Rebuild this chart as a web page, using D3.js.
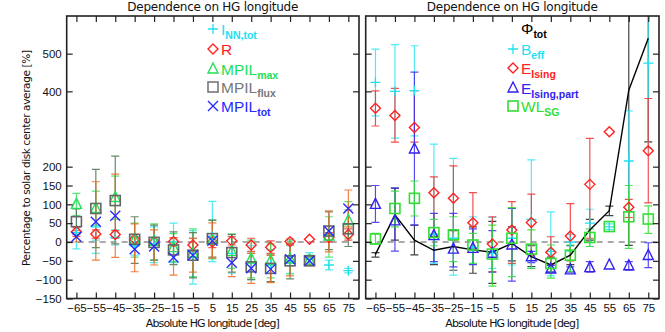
<!DOCTYPE html>
<html>
<head>
<meta charset="utf-8">
<script src="https://cdn.jsdelivr.net/npm/d3@7"></script>
<style>
  body { margin: 0; background: #fff; }
  svg { display: block; font-family: "DejaVu Sans", sans-serif; }
</style>
</head>
<body>
<svg width="665" height="332"></svg>
<script>
// categories: absolute HG longitude bins
let lons = [-65, -55, -45, -35, -25, -15, -5, 5, 15, 25, 35, 45, 55, 65, 75];
let yTicks = [-150, -100, -50, 0, 50, 100, 150, 200, 400, 500];

// left panel: value, lower, upper (null = no bar)
let inn = [25, 40, 12, -10, -5, 0, -40, 15, -30, -55, -60, -50, -45, -61, -76];
let innLo = [-18, -30, -8, -35, -55, -55, -112, -52, -83, -100, -105, -83, -60, -74, -82];
let innHi = [68, 5, 32, 15, 40, 50, 30, 108, 15, -10, -20, -10, -28, -48, -70];

let rVal = [27, 21, 20, 7, 1, 1, -8, 0, 3, -8, -14, 1, 7, 12, 20];
let rLo = [15, 10, 10, -5, -8, -10, -25, -15, -8, -25, -30, -8, null, 0, 5];
let rHi = [38, 32, 30, 20, 12, 12, 10, 15, 14, 10, 3, 8, null, 25, 35];

let maxVal = [100, 89, 118, 5, 2, -15, -30, 5, -25, -45, -50, -45, -48, 16, 57];
let maxLo = [71, 45, 60, -40, -48, -52, -92, -45, -70, -95, -95, -85, -60, -40, 10];
let maxHi = [129, 135, 175, 50, 48, 22, 35, 58, 21, 5, -5, 5, -35, 67, 107];

let fluxVal = [54, 89, 110, 7, -1, -21, -35, 9, -28, -66, -70, -50, -50, 29, 35];
let fluxLo = [20, -15, -5, -57, -48, -60, -95, -40, -80, -100, -105, -98, -62, -20, -12];
let fluxHi = [88, 193, 228, 67, 45, 27, 25, 58, 20, -30, -35, -5, -38, 80, 85];

let totVal = [14, 54, 70, -19, -12, -41, -35, 3, -55, -70, -72, -46, -50, 29, 89];
let totLo = [0, -48, -41, -79, -61, -88, -80, -43, -92, -110, -108, -90, -60, -26, 40];
let totHi = [30, 160, 180, 48, 32, 10, 10, 51, -15, -30, -35, -5, -40, 83, 138];

// right panel
let phiVal = [-33, 72, 5, -22, -12, -21, -27, -4, -39, -61, -35, 32, 83, 403, 541];
let phiLo = [-40, 5, -34, -60, -75, -83, -110, -50, -65, -80, -60, 5, 70, -9, 266];
let phiHi = [-28, 143, 45, 15, 30, 40, 55, 40, -10, -40, -10, 60, 95, 800, 800];

let beffVal = [424, 400, 402, 20, 10, -15, -30, 10, 60, -25, 0, 50, 40, 215, 475];
let beffLo = [335, 276, 282, -57, -88, -59, -70, -61, -70, -90, -25, -12, 33, 80, 250];
let beffHi = [512, 524, 521, 260, 222, 67, 65, 89, 218, 80, 20, 87, 48, 348, 800];

let eisVal = [355, 336, 304, 131, 116, 51, -5, 32, 52, -27, 16, 153, 293, 92, 242];
let eisLo = [308, 265, 265, 13, 5, -17, -79, -57, -35, -61, -50, 10, null, 65, 104];
let eisHi = [401, 408, 402, 173, 202, 131, 67, 107, 127, 14, 102, 275, null, 113, 381];

let partVal = [100, 56, 247, 17, -19, -17, -30, -8, -39, -72, -74, -68, -61, -63, -36];
let partLo = [52, -24, 45, -52, -66, -60, -80, -104, -55, -80, -80, -80, null, -75, -68];
let partHi = [150, 143, 451, 76, 76, 35, 30, 89, -25, -62, -66, -52, null, -52, -2];

let wlVal = [8, 89, 116, 25, 19, -8, -32, 10, -19, -57, -35, 12, 41, 67, 61];
let wlLo = [-5, 40, 69, -10, -52, -57, -117, -92, -70, -96, -79, -12, null, -17, 23];
let wlHi = [23, 135, 162, 60, 67, 23, 45, 91, 32, -8, -8, 35, null, 150, 96];

let svg = d3.select('svg');
let y = d3.scaleLinear().domain([-150, 600]).range([298.5, 16]);

let series = (val, lo, hi) => lons.map((c, i) => ({c: c, v: val[i], lo: lo[i], hi: hi[i]}));

let drawMarker = (g, type, x0, y0, color) => {
    let s = 5;
    if (type === 'plus') {
        g.append('path').attr('d', `M${x0 - s},${y0}H${x0 + s}M${x0},${y0 - s}V${y0 + s}`)
         .attr('stroke', color).attr('stroke-width', 1.3).attr('fill', 'none');
    } else if (type === 'x') {
        g.append('path').attr('d', `M${x0 - s},${y0 - s}L${x0 + s},${y0 + s}M${x0 - s},${y0 + s}L${x0 + s},${y0 - s}`)
         .attr('stroke', color).attr('stroke-width', 1.4).attr('fill', 'none');
    } else if (type === 'diamond') {
        g.append('path').attr('d', `M${x0},${y0 - s}L${x0 + s},${y0}L${x0},${y0 + s}L${x0 - s},${y0}Z`)
         .attr('stroke', color).attr('stroke-width', 1.4).attr('fill', 'none');
    } else if (type === 'triangle') {
        g.append('path').attr('d', `M${x0},${y0 - s - 1}L${x0 + s},${y0 + s - 1}L${x0 - s},${y0 + s - 1}Z`)
         .attr('stroke', color).attr('stroke-width', 1.4).attr('fill', 'none');
    } else if (type === 'square') {
        g.append('rect').attr('x', x0 - s).attr('y', y0 - s).attr('width', 2 * s).attr('height', 2 * s)
         .attr('stroke', color).attr('stroke-width', 1.6).attr('fill', 'none');
    }
}

let drawPanel = (id, x0, x1, showYLabels, list, line) => {
    let x = d3.scaleLinear().domain([-70, 80.5]).range([x0, x1]);
    let g = svg.append('g').attr('id', id);

    g.append('clipPath').attr('id', id + '-clip')
     .append('rect').attr('x', x0).attr('y', y(600)).attr('width', x1 - x0).attr('height', y(-150) - y(600));

    let plot = g.append('g').attr('clip-path', `url(#${id}-clip)`);

    // zero line
    plot.append('line')
        .attr('x1', x0).attr('x2', x1).attr('y1', y(0)).attr('y2', y(0))
        .attr('stroke', '#555').attr('stroke-dasharray', '6,5').attr('stroke-width', 1);

    // error bars
    list.forEach(s => {
        s.data.filter(d => d.lo !== null).forEach(d => {
            let px = x(d.c);
            plot.append('path')
                .attr('d', `M${px},${y(d.lo)}V${y(d.hi)}M${px - 4},${y(d.lo)}H${px + 4}M${px - 4},${y(d.hi)}H${px + 4}`)
                .attr('stroke', s.errColor).attr('stroke-width', 1.2).attr('fill', 'none')
                .attr('opacity', 0.85);
        });
    });

    if (line) {
        plot.append('path').datum(line.data)
            .attr('d', d3.line().x(d => x(d.c)).y(d => y(d.v)))
            .attr('stroke', '#000').attr('stroke-width', 1.4).attr('fill', 'none');
    }

    list.forEach(s => {
        if (!s.marker) return;
        s.data.forEach(d => drawMarker(plot, s.marker, x(d.c), y(d.v), s.color));
    });

    // axes, ticks pointing inward
    let fmt = d => d < 0 ? '\u2212' + Math.abs(d) : String(d);
    let xb = g.append('g').attr('transform', `translate(0,${y(-150)})`)
        .call(d3.axisBottom(x).tickValues(lons).tickSizeInner(-6).tickSizeOuter(0).tickFormat(fmt).tickPadding(5));
    let xt = g.append('g').attr('transform', `translate(0,${y(600)})`)
        .call(d3.axisTop(x).tickValues(lons).tickSizeInner(-6).tickSizeOuter(0).tickFormat(''));
    let yl = g.append('g').attr('transform', `translate(${x0},0)`)
        .call(d3.axisLeft(y).tickValues(yTicks).tickSizeInner(-6).tickSizeOuter(0)
        .tickFormat(showYLabels ? fmt : '').tickPadding(5));
    let yr = g.append('g').attr('transform', `translate(${x1},0)`)
        .call(d3.axisRight(y).tickValues(yTicks).tickSizeInner(-6).tickSizeOuter(0).tickFormat(''));
    [xb, xt, yl, yr].forEach(a => {
        a.select('.domain').remove();
        a.selectAll('line').attr('stroke', '#222').attr('stroke-width', 1.2);
        a.selectAll('text').attr('font-size', 11.5).attr('fill', '#111')
         .attr('font-family', '"Liberation Sans", sans-serif');
    });

    g.append('rect').attr('x', x0).attr('y', y(600)).attr('width', x1 - x0).attr('height', y(-150) - y(600))
     .attr('fill', 'none').attr('stroke', '#222').attr('stroke-width', 1.6);

    let cx = (x0 + x1) / 2;
    g.append('text').attr('x', cx).attr('y', 11).attr('text-anchor', 'middle')
     .attr('font-size', 12).attr('fill', '#111').attr('textLength', 171)
     .text('Dependence on HG longitude');
    g.append('text').attr('x', cx).attr('y', 327).attr('text-anchor', 'middle')
     .attr('font-size', 11).attr('fill', '#111').attr('textLength', 134)
     .text('Absolute HG longitude [deg]');
    return x;
}

let left = [
    {marker: 'plus', color: '#22e0f0', errColor: '#33e6f2', data: series(inn, innLo, innHi)},
    {marker: 'diamond', color: '#ff2222', errColor: '#f03a2a', data: series(rVal, rLo, rHi)},
    {marker: 'triangle', color: '#22e055', errColor: '#3ce060', data: series(maxVal, maxLo, maxHi)},
    {marker: 'square', color: '#666', errColor: '#4f7350', data: series(fluxVal, fluxLo, fluxHi)},
    {marker: 'x', color: '#2a2aff', errColor: '#f06a20', data: series(totVal, totLo, totHi)}
];
drawPanel('left', 66.7, 359, true, left, null);

let phi = {data: series(phiVal, phiLo, phiHi)};
let right = [
    {marker: null, color: '#000', errColor: '#222', data: phi.data},
    {marker: 'plus', color: '#22e0f0', errColor: '#33e6f2', data: series(beffVal, beffLo, beffHi)},
    {marker: 'diamond', color: '#ff2222', errColor: '#f03030', data: series(eisVal, eisLo, eisHi)},
    {marker: 'triangle', color: '#3322ee', errColor: '#3a2aee', data: series(partVal, partLo, partHi)},
    {marker: 'square', color: '#33dd33', errColor: '#33dd33', data: series(wlVal, wlLo, wlHi)}
];
drawPanel('right', 365.7, 659, false, right, phi);

// y label
svg.append('text').attr('transform', 'translate(30,158) rotate(-90)')
   .attr('text-anchor', 'middle').attr('font-size', 10.5).attr('fill', '#111')
   .attr('textLength', 216)
   .text('Percentage to solar disk center average [%]');

// legends
let legend = (mx, tx, rows) => {
    let lg = svg.append('g');
    rows.forEach((r, i) => {
        let cy = r.y;
        if (r.marker) drawMarker(lg, r.marker, mx, cy, r.color);
        let t = lg.append('text').attr('x', tx).attr('y', cy + 6).attr('fill', r.color)
                  .attr('font-size', 15.5).attr('font-family', '"Liberation Sans", sans-serif');
        t.append('tspan').text(r.main);
        t.append('tspan').attr('dy', 4).attr('font-size', 10.5).attr('font-weight', 'bold').text(r.sub);
    });
}
legend(213, 221, [
    {marker: 'plus', color: '#22e0f0', main: 'I', sub: 'NN,tot', y: 29},
    {marker: 'diamond', color: '#ff2222', main: 'R', sub: '', y: 49},
    {marker: 'triangle', color: '#22e055', main: 'MPIL', sub: 'max', y: 69},
    {marker: 'square', color: '#777', main: 'MPIL', sub: 'flux', y: 87},
    {marker: 'x', color: '#2a2aff', main: 'MPIL', sub: 'tot', y: 106}
]);
legend(513, 521, [
    {marker: null, color: '#000', main: '\u03a6', sub: 'tot', y: 28},
    {marker: 'plus', color: '#22e0f0', main: 'B', sub: 'eff', y: 49},
    {marker: 'diamond', color: '#ff2222', main: 'E', sub: 'Ising', y: 68},
    {marker: 'triangle', color: '#3322ee', main: 'E', sub: 'Ising,part', y: 88},
    {marker: 'square', color: '#33dd33', main: 'WL', sub: 'SG', y: 106}
]);
</script>
</body>
</html>
